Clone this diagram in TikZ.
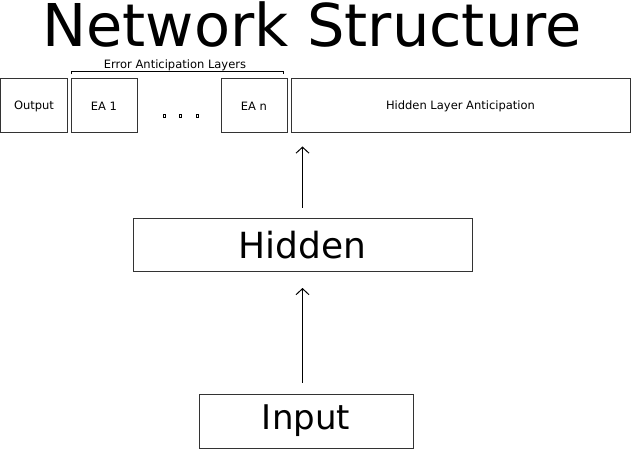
\documentclass[tikz,border=0pt]{standalone}
\usepackage{fontspec}
\setmainfont{DejaVu Sans}
\usepackage{tikz}
\usetikzlibrary{arrows.meta}

\tikzset{
  layer/.style = {rectangle,
      draw = black!80,
      line width = 1bp,
      inner sep = 0pt},
  small/.style = {font = \fontsize{11.5bp}{13bp}\selectfont},
  uparrow/.style = {-{Straight Barb[length=6bp,width=13bp]},
      line width = 1bp}
}

\begin{document}
\begin{tikzpicture}[x=1bp, y=-1bp]
\useasboundingbox (0,0) rectangle (631,449);

% title
\node[anchor = base,
    inner sep = 0pt,
    font = \fontsize{59bp}{66bp}\selectfont] (title) at (312,47) {Network Structure};

% top row of layers
\node[layer, small,
    minimum width = 66bp,
    minimum height = 54bp] (out) at (34,106) {Output};

\node[layer, small,
    minimum width = 66bp,
    minimum height = 54bp] (ea1) at (104,106) {\raisebox{-2bp}{EA 1}};

\node[layer, small,
    minimum width = 66bp,
    minimum height = 54bp] (ean) at (254,106) {\raisebox{-2bp}{EA n}};

\node[layer, small,
    minimum width = 339bp,
    minimum height = 54bp] (hla) at (460.5,106) {Hidden Layer Anticipation};

% dots between EA 1 and EA n
\foreach \x in {164,180,197}
  \draw[line width = 0.6bp] (\x-1.2,114.8) rectangle ++(2.5,2.5);

% bracket over the EA layers
\draw[line width = 0.8bp] ([xshift=1bp,yshift=4bp]ea1.north west) -- ++(0,-3)
    -| ([xshift=-4bp,yshift=4bp]ean.north east);
\node[small, anchor = base] (ealabel) at (175,69) {Error Anticipation Layers};

% hidden and input
\node[layer,
    minimum width = 339bp,
    minimum height = 53bp,
    font = \fontsize{36bp}{40bp}\selectfont] (hidden) at (302.5,245) {Hidden};

\node[layer,
    minimum width = 214bp,
    minimum height = 54bp,
    font = \fontsize{34bp}{38bp}\selectfont] (input) at (306,421) {\raisebox{-1bp}{Input}};

% arrows
\draw[uparrow, shorten < = 11bp, shorten > = 16bp] (hidden.south |- input.north) -- (hidden.south);
\draw[uparrow, shorten < = 10bp, shorten > = 13bp] (hidden.north) -- (hidden.north |- hla.south);

\end{tikzpicture}
\end{document}
